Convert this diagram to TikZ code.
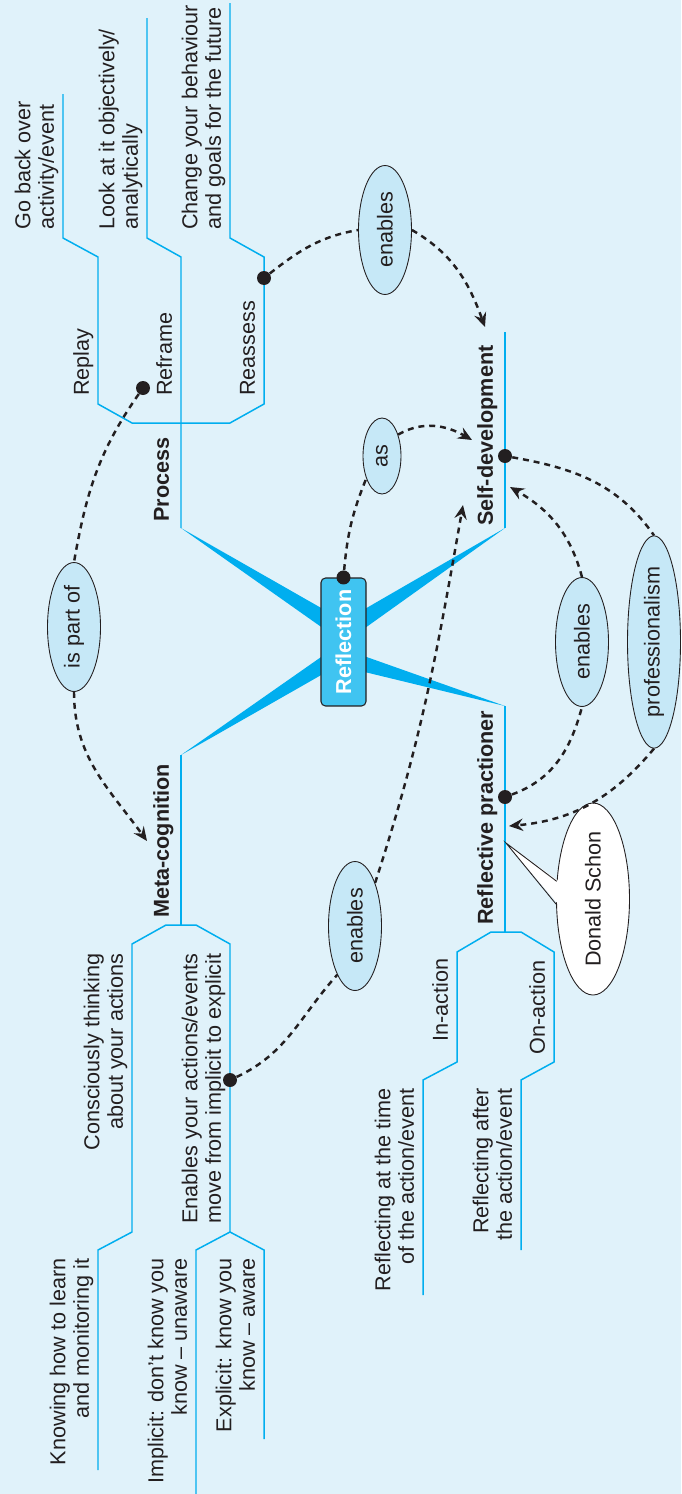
\documentclass[tikz,border=0pt]{standalone}
\usepackage{fontspec}
\setmainfont{Liberation Sans}
\usepackage{graphicx}
\usepackage{tikz}
\usetikzlibrary{shapes, arrows.meta}

\definecolor{paper}{HTML}{E0F2FA}
\definecolor{branch}{HTML}{00AEEF}
\definecolor{bubblefill}{HTML}{C6E8F7}
\definecolor{hubfill}{HTML}{40C4F1}
\definecolor{ink}{HTML}{231F20}

\begin{document}
\begin{tikzpicture}[x=0.02cm, y=-0.02cm,
		twig/.style={draw=branch, line width=0.85pt},
		leaf/.style={rotate=90, inner sep=0pt, text=ink, text depth=0.22em, font=\fontsize{12.3}{13.3}\selectfont},
		topic/.style={leaf, font=\fontsize{12.3}{13.3}\selectfont\bfseries},
		bubble/.style={ellipse, rotate=90, draw=ink, fill=bubblefill, line width=0.5pt, inner sep=0pt, text=ink,
			font=\fontsize{12.3}{13.3}\selectfont, minimum width=2.58cm, minimum height=1.06cm},
		hole/.style={circle, fill=ink, inner sep=0pt, minimum size=0.28cm},
		link/.style={draw=ink, line width=1.4pt, dash pattern=on 3.4pt off 2.8pt},
		>={Stealth[length=8pt, width=7pt, inset=2.8pt]}]
		\useasboundingbox (0,0) rectangle (681,1494);
		\fill[paper] (0,0) rectangle (681,1494);

		\coordinate (proc) at (181,528);
		\coordinate (meta) at (181,755);
		\coordinate (self) at (505,528);
		\coordinate (prac) at (505,706);
		\fill[branch] (proc) -- (344,621) -- (344,643) -- cycle;
		\fill[branch] (meta) -- (344,641) -- (344,662) -- cycle;
		\fill[branch] (self) -- (344,621) -- (344,643) -- cycle;
		\fill[branch] (prac) -- (344,649) -- (344,667) -- cycle;
		\node[rotate=90, draw=ink, line width=0.6pt, fill=hubfill, rounded corners=0.09cm, minimum width=2.56cm,
			minimum height=0.9cm, inner sep=0pt, text=white, font=\fontsize{12.3}{13.3}\selectfont\bfseries]
			(refl) at (343.5,642) {Reflection};

		\draw[twig] (proc) -- (181,257) -- (147,238) -- (147,18);
		\draw[twig] (63,94) -- (63,238) -- (98,257) -- (98,404) -- (132,423) -- (230,423) -- (264,404) -- (264,257) -- (230,238) -- (230,3);
		\draw[twig] (meta) -- (181,925);
		\draw[twig] (98,1470) -- (98,1250) -- (132,1232) -- (132,944) -- (166,925) -- (196,925) -- (230,944) -- (230,1232);
		\draw[twig] (196,1494) -- (196,1250) -- (230,1232) -- (264,1250) -- (264,1439);
		\draw[twig] (self) -- (505,332);
		\draw[twig] (prac) -- (505,932);
		\draw[twig] (423,1295) -- (423,1080) -- (457,1062) -- (457,952) -- (491,932) -- (521,932) -- (554,952) -- (554,1062) -- (521,1080) -- (521,1250);

		\node[topic, anchor=south west] (tproc) at (173,522) {Process};
		\node[leaf, anchor=south west] (treplay) at (93,396) {Replay};
		\node[leaf, anchor=south west] (treframe) at (176,396) {Reframe};
		\node[leaf, anchor=south west] (treassess) at (259,396) {Reassess};
		\node[leaf, anchor=south west, align=left] (tgoback) at (58,230) {Go back over\\activity/event};
		\node[leaf, anchor=south west, align=left] (tlook) at (142,230) {Look at it objectively/\\analytically};
		\node[leaf, anchor=south west, align=left] (tchange) at (225,230) {Change your behaviour\\and goals for the future};

		\node[topic, anchor=south west] (tmeta) at (173,918) {Meta-cognition};
		\node[leaf, anchor=south east, align=right] (tconsc) at (127,953) {Consciously thinking\\about your actions};
		\node[leaf, anchor=south east, align=right] (tenab) at (225,953) {Enables your actions/events\\move from implicit to explicit};
		\node[leaf, anchor=south east, align=right] (tknow) at (93,1258) {Knowing how to learn\\and monitoring it};
		\node[leaf, anchor=south east, align=right] (timpl) at (191,1258) {Implicit: don’t know you\\know – unaware};
		\node[leaf, anchor=south east, align=right] (texpl) at (259,1258) {Explicit: know you\\know – aware};

		\node[topic, anchor=south west] (tself) at (497,526) {Self-development};
		\node[topic, anchor=south west] (tprac) at (497,925) {Reflective practioner};
		\node[leaf, anchor=south east] (tin) at (452,958) {In-action};
		\node[leaf, anchor=south east] (ton) at (549,960) {On-action};
		\node[leaf, anchor=south east, align=right] (tintime) at (418,1088) {Reflecting at the time\\of the action/event};
		\node[leaf, anchor=south east, align=right] (tafter) at (516,1088) {Reflecting after\\the action/event};

		\coordinate (schon) at (506,843);
		\node[ellipse, draw=ink, fill=white, line width=0.5pt, inner sep=0pt, minimum width=1.46cm, minimum height=3.16cm,
			text=ink, font=\fontsize{12.3}{13.3}\selectfont] (donald) at (593,899) {\rotatebox{90}{Donald Schon}};
		\fill[white] ([xshift=1.2pt]donald.154) -- (schon) -- ([xshift=1.2pt]donald.188) -- cycle;
		\draw[ink, line width=0.5pt] (donald.154) -- (schon) -- (donald.188);

		\node[bubble] (ispart) at (74,627) {is part of};
		\node[bubble] (enproc) at (385,230) {enables};
		\node[bubble, minimum width=1.52cm, minimum height=0.76cm] (asbub) at (382,456) {as};
		\node[bubble] (enmeta) at (355,926) {enables};
		\node[bubble] (enprac) at (582,642) {enables};
		\node[bubble, minimum width=3.94cm] (prof) at (654,642) {professionalism};

		\node[hole] (dre) at (143,388) {};
		\node[hole] (dra) at (264,278) {};
		\node[hole] (dref) at (refl.east) {};
		\node[hole] (dmeta) at (230,1080) {};
		\node[hole] (dself) at (505,456) {};
		\node[hole] (dprac) at (505,797) {};
		\coordinate (metaend) at (147,841);
		\coordinate (selfend) at (485,327);
		\coordinate (asend) at (472,440);
		\coordinate (crossend) at (463,505);
		\coordinate (selfside) at (510,487);
		\coordinate (pracend) at (509,826);

		\draw[link] (dre) to[out=235, in=80] (ispart.east);
		\draw[link, ->] (ispart.west) to[out=270, in=126] (metaend);
		\draw[link] (dra) to[out=38, in=190] (enproc.north);
		\draw[link, ->] (enproc.south) to[out=-30, in=110] (selfend);
		\draw[link] (dref) to[out=85, in=248] (asbub.145);
		\draw[link, ->] (asbub.-37) to[out=30, in=150] (asend);
		\draw[link] (dmeta) to[out=25, in=228] (enmeta.160);
		\draw[link, ->] (enmeta.-25) to[out=72, in=260] (crossend);
		\draw[link] (dself) to[out=-10, in=125] (prof.east);
		\draw[link, ->] (prof.west) to[out=230, in=5] (pracend);
		\draw[link] (dprac) to[out=20, in=255] (enprac.west);
		\draw[link, ->] (enprac.east) to[out=105, in=-30] (selfside);
\end{tikzpicture}
\end{document}
